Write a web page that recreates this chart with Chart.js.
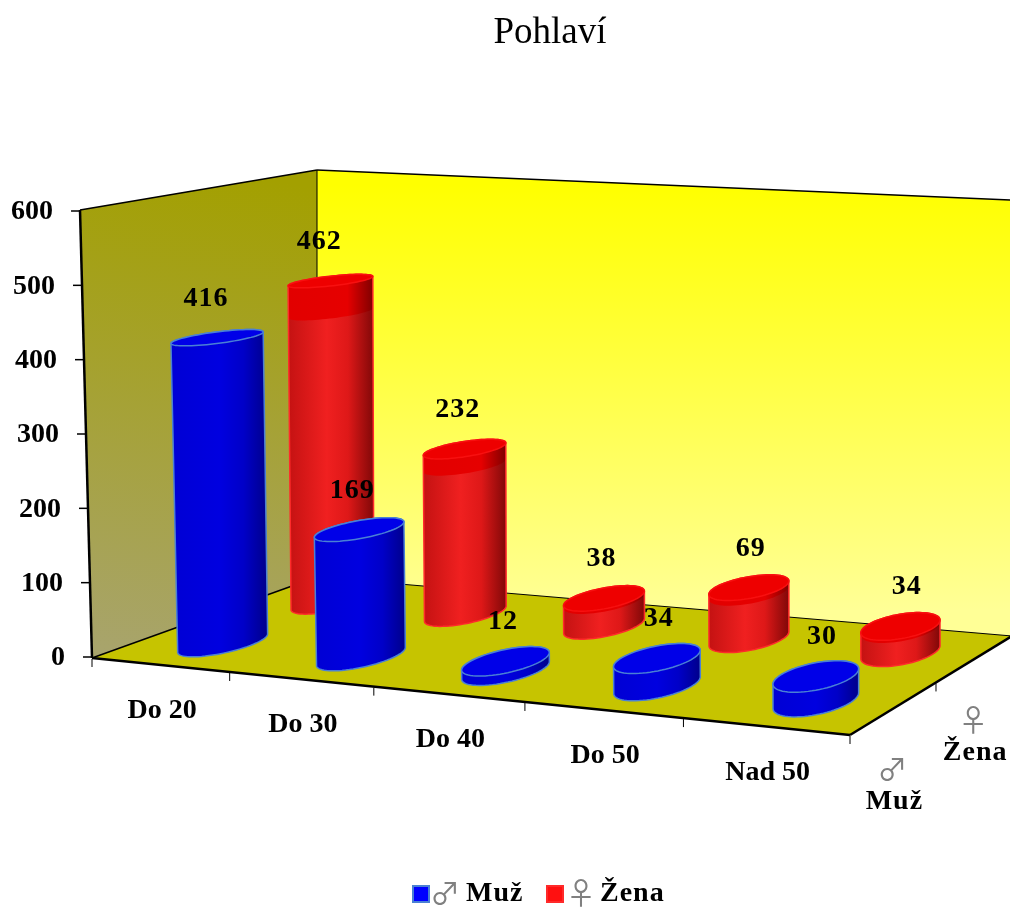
<!DOCTYPE html>
<html><head><meta charset="utf-8">
<style>html,body{margin:0;padding:0;background:#fff}canvas{display:block}</style>
<script src="https://cdn.jsdelivr.net/npm/chart.js@4"></script>
</head><body>
<canvas id="c" width="1010" height="908"></canvas>
<script>
const categories = ['Do 20','Do 30','Do 40','Do 50','Nad 50'];
const muzValues = [416,169,12,34,30];
const zenaValues = [462,232,38,69,34];
const seriesNames = ['♂ Muž','♀ Žena'];
const seriesColors = ['#0000ff','#ff1010'];
const yTicks = [0,100,200,300,400,500,600];

const SERIF = '"Liberation Serif","Times New Roman",serif';
const BOLD = 'bold 28px '+SERIF;
const GLYPH = '30px "Noto Sans CJK JP","DejaVu Sans"';
// floor corners of the 3D box
const A=[92,658],B=[850,735],C=[1012,636],D=[317,577];
const AT=[80,210],DT=[317,170],CT=[1012,200];
const H=448, RATIO=3.875, USHIFT=0.005;
const sx=A[0]-B[0]+C[0]-D[0], sy=A[1]-B[1]+C[1]-D[1];
const dx1=B[0]-C[0], dx2=D[0]-C[0], dy1=B[1]-C[1], dy2=D[1]-C[1];
const den=dx1*dy2-dx2*dy1;
const g=(sx*dy2-dx2*sy)/den, h=(dx1*sy-sx*dy1)/den;
const a=B[0]-A[0]+g*B[0], b=D[0]-A[0]+h*D[0], c0=A[0];
const d=B[1]-A[1]+g*B[1], e=D[1]-A[1]+h*D[1], f=A[1];
function proj(u,v,t){
  const w=g*u+h*v+1, lean=-0.027*(1-u)*(1-v);
  return [(a*u+b*v+c0+lean*H*t)/w,(d*u+e*v+f-H*t)/w];
}
function hull(pts){
  const p=pts.slice().sort((m,n)=>m[0]-n[0]||m[1]-n[1]);
  const cr=(o,m,n)=>(m[0]-o[0])*(n[1]-o[1])-(m[1]-o[1])*(n[0]-o[0]);
  const lo=[],up=[];
  for(const q of p){while(lo.length>1&&cr(lo[lo.length-2],lo[lo.length-1],q)<=0)lo.pop();lo.push(q);}
  for(const q of p.slice().reverse()){while(up.length>1&&cr(up[up.length-2],up[up.length-1],q)<=0)up.pop();up.push(q);}
  return lo.slice(0,-1).concat(up.slice(0,-1));
}
function poly(ctx,pts){ctx.beginPath();pts.forEach((q,i)=>i?ctx.lineTo(q[0],q[1]):ctx.moveTo(q[0],q[1]));ctx.closePath();}
function line(ctx,p,q,w){ctx.lineWidth=w;ctx.strokeStyle='#000';ctx.beginPath();ctx.moveTo(p[0],p[1]);ctx.lineTo(q[0],q[1]);ctx.stroke();}
function ring(u,v,ru,rv,t){const r=[];for(let i=0;i<72;i++){const th=i/72*2*Math.PI;r.push(proj(u+ru*Math.cos(th),v+rv*Math.sin(th),t));}return r;}
function vOf(idx){return idx===0?0.25:0.75;}
const looks=[
 {stops:[[0,'#0000d4'],[.5,'#0000e0'],[.75,'#0000c8'],[1,'#00008a']],top:'#0000e8',edge:'#4a80d4',topEdge:'#4a80d4'},
 {stops:[[0,'#c41212'],[.45,'#f02020'],[.7,'#de1818'],[1,'#800808']],top:'#ee0000',edge:'#ff2a2a',topEdge:'#f81010',
  band:[[0,'#e20000'],[.7,'#e60000'],[1,'#800000']]}
];
function grad(ctx,pts,stops){
  const xs=pts.map(q=>q[0]);
  const gr=ctx.createLinearGradient(Math.min(...xs),0,Math.max(...xs),0);
  stops.forEach(s=>gr.addColorStop(s[0],s[1]));return gr;
}
const box3d={
  id:'box3d',
  beforeDatasetsDraw(chart){
    const ctx=chart.ctx, ys=chart.scales.y, xs=chart.scales.x;
    ctx.save();
    let gr=ctx.createLinearGradient(210,170,130,655);
    gr.addColorStop(0,'#a3a000');gr.addColorStop(1,'#a8a46c');
    poly(ctx,[A,AT,DT,D]);ctx.fillStyle=gr;ctx.fill();
    gr=ctx.createLinearGradient(0,185,0,610);
    gr.addColorStop(0,'#ffff00');gr.addColorStop(1,'#ffff96');
    poly(ctx,[D,DT,CT,C]);ctx.fillStyle=gr;ctx.fill();
    poly(ctx,[A,B,C,D]);ctx.fillStyle='#c6c400';ctx.fill();
    line(ctx,A,AT,2.5);line(ctx,AT,DT,1.5);line(ctx,DT,D,1);line(ctx,DT,CT,1.5);
    line(ctx,D,C,1);line(ctx,A,D,1.5);line(ctx,A,B,2.5);line(ctx,B,C,2.5);
    // value-axis ticks and their labels, following the slanted axis
    ctx.font=BOLD;ctx.textAlign='right';ctx.textBaseline='middle';
    ys.ticks.forEach(tk=>{
      const py=ys.getPixelForValue(tk.value), fr=(A[1]-py)/(A[1]-AT[1]);
      const px=A[0]+(AT[0]-A[0])*fr;
      line(ctx,[px-9,py],[px,py],1.5);
      ctx.fillStyle='#000';
      ctx.fillText(String(tk.value),px-27,py+1);
    });
    // category ticks on the front edge
    for(let i=0;i<=categories.length;i++){
      const p=proj(i/categories.length,0,0);
      line(ctx,[p[0],p[1]+1],[p[0],p[1]+9],1);
    }
    // series tick on the right edge
    [0.5].forEach(v=>{const p=proj(1,v,0);line(ctx,[p[0],p[1]+1],[p[0],p[1]+9],1);});
    // category labels
    ctx.fillStyle='#000';ctx.font=BOLD;ctx.textAlign='center';ctx.textBaseline='middle';
    categories.forEach((cat,i)=>{
      const u=(xs.getPixelForValue(i)-chart.chartArea.left)/chart.chartArea.width;
      const p=proj(u,0,0);
      ctx.fillText(cat,p[0]+2,p[1]+46);
    });
    // series labels on the depth axis
    chart.data.datasets.forEach((ds,idx)=>{
      const p=proj(1,vOf(idx),0), parts=ds.label.split(' ');
      ctx.fillStyle='#808080';ctx.font=GLYPH;
      ctx.fillText(parts[0],p[0]-2,p[1]+61);
      ctx.fillStyle='#000';ctx.font=BOLD;
      ctx.letterSpacing='1px';
      ctx.fillText(parts[1],p[0],p[1]+94);
      ctx.letterSpacing='0px';
    });
    ctx.restore();
  },
  beforeDatasetDraw(chart,args){
    const ctx=chart.ctx, area=chart.chartArea, idx=args.index, look=looks[idx];
    const meta=chart.getDatasetMeta(idx);
    ctx.save();
    meta.data.forEach(el=>{
      const u=(el.x-area.left)/area.width+USHIFT, v=vOf(idx);
      const ru=el.width/2/area.width, rv=ru*RATIO;
      const t=(el.base-el.y)/area.height;
      const bot=ring(u,v,ru,rv,0), top=ring(u,v,ru,rv,t);
      const body=hull(bot.concat(top));
      poly(ctx,body);ctx.fillStyle=grad(ctx,body,look.stops);ctx.fill();
      if(look.band){
        const bd=hull(top.concat(ring(u,v,ru,rv,t*0.9)));
        poly(ctx,bd);ctx.fillStyle=grad(ctx,bd,look.band);ctx.fill();
      }
      ctx.lineWidth=1.5;ctx.strokeStyle=look.edge;
      poly(ctx,body);ctx.stroke();
      ctx.strokeStyle=look.topEdge;
      poly(ctx,top);ctx.fillStyle=look.top;ctx.fill();ctx.stroke();
    });
    ctx.restore();
    return false;
  },
  afterDatasetsDraw(chart){
    const ctx=chart.ctx, area=chart.chartArea;
    ctx.save();
    ctx.fillStyle='#000';ctx.font=BOLD;ctx.textAlign='center';ctx.textBaseline='middle';
    ctx.letterSpacing='1px';
    chart.data.datasets.forEach((ds,idx)=>{
      chart.getDatasetMeta(idx).data.forEach((el,i)=>{
        const u=(el.x-area.left)/area.width+USHIFT, t=(el.base-el.y)/area.height;
        const p=proj(u,vOf(idx),t);
        ctx.fillText(String(ds.data[i]),p[0]-14+22*u,p[1]-39);
      });
    });
    // legend
    const y=894; let x=413;
    chart.data.datasets.forEach((ds,idx)=>{
      const parts=ds.label.split(' ');
      ctx.fillStyle=ds.backgroundColor;ctx.fillRect(x,y-8,16,16);
      ctx.strokeStyle=looks[idx].edge;ctx.lineWidth=2;ctx.strokeRect(x,y-8,16,16);
      ctx.letterSpacing='0px';ctx.textAlign='center';
      ctx.fillStyle='#808080';ctx.font=GLYPH;
      ctx.fillText(parts[0],idx===0?445:581,y-1);
      ctx.textAlign='left';ctx.letterSpacing='1px';
      ctx.fillStyle='#000';ctx.font=BOLD;
      ctx.fillText(parts[1],idx===0?466:600,y);
      x=547;
    });
    ctx.restore();
  }
};
new Chart(document.getElementById('c'),{
  type:'bar',
  data:{labels:categories,datasets:[
    {label:seriesNames[0],data:muzValues,backgroundColor:seriesColors[0]},
    {label:seriesNames[1],data:zenaValues,backgroundColor:seriesColors[1]}
  ]},
  options:{
    responsive:false,animation:false,
    layout:{padding:{left:0,right:2,top:0,bottom:251}},
    datasets:{bar:{grouped:false,barPercentage:0.4,categoryPercentage:1}},
    plugins:{
      legend:{display:false},tooltip:{enabled:false},
      title:{display:true,text:'Pohlaví',color:'#000',fullSize:false,
        font:{family:SERIF,size:37,weight:'normal',lineHeight:1.2},
        padding:{top:11,bottom:155.6}}
    },
    scales:{
      x:{display:false},
      y:{min:0,max:600,position:'left',
        afterFit(s){s.width=92;},
        afterBuildTicks(s){s.ticks=yTicks.map(v=>({value:v}));},
        grid:{display:false},border:{display:false},
        ticks:{display:false}}
    }
  },
  plugins:[box3d]
});
</script>
</body></html>
